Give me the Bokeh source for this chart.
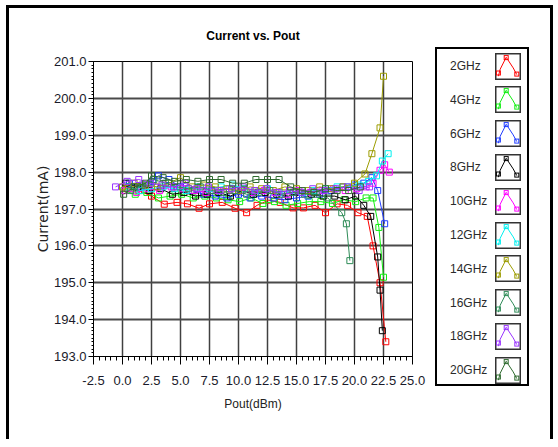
import numpy as np
from bokeh.plotting import figure
from bokeh.layouts import row
from bokeh.models import Range1d, SingleIntervalTicker, PrintfTickFormatter, Div
from bokeh.embed import file_html
from bokeh.resources import INLINE

# ---------------- data ----------------
labels = ["2GHz", "4GHz", "6GHz", "8GHz", "10GHz", "12GHz", "14GHz", "16GHz", "18GHz", "20GHz"]
colors = ["#ff0000", "#11ee11", "#1f3cff", "#000000", "#ff00ff",
          "#00f0f0", "#9c9c00", "#2e8b57", "#9933ff", "#2f6b2f"]

x_2 = [0.4, 1.4, 2.5, 3.6, 4.7, 5.6, 6.6, 7.5, 8.6, 9.7, 10.7, 11.6, 12.6, 13.6, 14.7, 15.6, 16.6, 17.5, 18.5, 19.4, 20.3, 21.1, 21.6, 22.2, 22.7]
y_2 = [197.55, 197.5, 197.35, 197.13, 197.18, 197.14, 197.02, 197.14, 197.18, 197.02, 196.9, 197.1, 197.24, 197.18, 197.03, 197.03, 197.1, 196.9, 197.14, 197.1, 196.9, 196.8, 196.0, 195.0, 193.4]

x_4 = [0.1, 1.1, 2.1, 3.1, 4.1, 5.1, 6.1, 7.1, 8.1, 9.1, 10.1, 11.1, 12.1, 13.1, 14.1, 15.1, 16.1, 17.1, 18.1, 19.1, 20.1, 21.0, 21.6, 22.1, 22.5]
y_4 = [197.5, 197.4, 197.45, 197.3, 197.35, 197.4, 197.3, 197.35, 197.3, 197.25, 197.2, 197.3, 197.15, 197.2, 197.1, 197.15, 197.2, 197.2, 197.15, 197.25, 197.2, 197.3, 197.3, 196.5, 195.15]

x_6 = [0.6, 1.6, 2.6, 3.1, 4.0, 5.0, 6.0, 7.0, 8.0, 9.0, 10.0, 11.0, 12.0, 13.0, 14.0, 15.0, 16.0, 17.0, 18.0, 19.0, 20.0, 20.8, 21.5, 22.0, 22.6]
y_6 = [197.7, 197.6, 197.75, 197.9, 197.8, 197.6, 197.5, 197.4, 197.35, 197.3, 197.4, 197.3, 197.35, 197.3, 197.25, 197.3, 197.35, 197.4, 197.5, 197.6, 197.65, 197.7, 197.85, 197.5, 196.6]

x_8 = [0.3, 1.3, 2.3, 3.3, 4.3, 5.3, 6.3, 7.3, 8.3, 9.3, 10.3, 11.3, 12.3, 13.3, 14.3, 15.3, 16.3, 17.3, 18.3, 19.2, 20.1, 20.8, 21.4, 22.0, 22.2, 22.4]
y_8 = [197.7, 197.6, 197.5, 197.55, 197.4, 197.45, 197.35, 197.4, 197.45, 197.35, 197.5, 197.4, 197.45, 197.4, 197.35, 197.45, 197.4, 197.35, 197.35, 197.25, 197.35, 197.1, 196.8, 195.7, 194.8, 193.7]

x_10 = [0.2, 1.2, 2.2, 3.2, 4.2, 5.2, 6.2, 7.2, 8.2, 9.2, 10.2, 11.2, 12.2, 13.2, 14.2, 15.2, 16.2, 17.2, 18.2, 19.2, 20.2, 21.0, 21.6, 22.2, 22.6, 23.0]
y_10 = [197.5, 197.45, 197.55, 197.5, 197.6, 197.55, 197.5, 197.45, 197.5, 197.55, 197.5, 197.45, 197.5, 197.45, 197.4, 197.5, 197.45, 197.5, 197.55, 197.5, 197.55, 197.6, 197.7, 198.05, 198.2, 198.0]

x_12 = [0.5, 1.5, 2.5, 3.5, 4.5, 5.5, 6.5, 7.5, 8.5, 9.5, 10.5, 11.5, 12.5, 13.5, 14.5, 15.5, 16.5, 17.5, 18.5, 19.5, 20.4, 21.2, 21.9, 22.4, 22.9]
y_12 = [197.6, 197.5, 197.55, 197.6, 197.55, 197.5, 197.6, 197.55, 197.6, 197.65, 197.55, 197.5, 197.55, 197.45, 197.5, 197.45, 197.5, 197.55, 197.6, 197.6, 197.65, 197.75, 197.9, 198.3, 198.5]

x_14 = [0.0, 1.0, 2.0, 3.0, 4.0, 5.0, 6.0, 7.0, 8.0, 9.0, 10.0, 11.0, 12.0, 13.0, 14.0, 15.0, 16.0, 17.0, 18.0, 19.0, 20.0, 20.9, 21.5, 22.2, 22.5]
y_14 = [197.6, 197.7, 197.65, 197.6, 197.7, 197.85, 197.6, 197.65, 197.6, 197.55, 197.5, 197.6, 197.55, 197.5, 197.6, 197.55, 197.5, 197.6, 197.55, 197.6, 197.7, 197.95, 198.5, 199.2, 200.6]

x_16 = [0.7, 1.7, 2.7, 3.7, 4.7, 5.7, 6.7, 7.7, 8.7, 9.7, 10.7, 11.7, 12.7, 13.7, 14.7, 15.7, 16.7, 17.7, 18.9, 19.3, 19.6]
y_16 = [197.5, 197.65, 197.8, 197.7, 197.6, 197.55, 197.6, 197.5, 197.45, 197.5, 197.4, 197.45, 197.5, 197.4, 197.45, 197.4, 197.4, 197.3, 196.9, 196.6, 195.6]

x_18 = [-0.6, 0.4, 1.4, 2.4, 3.4, 4.4, 5.4, 6.4, 7.4, 8.4, 9.4, 10.4, 11.4, 12.4, 13.4, 14.4, 15.4, 16.4, 17.4, 18.4, 19.4, 20.4, 21.3]
y_18 = [197.6, 197.75, 197.8, 197.7, 197.65, 197.6, 197.7, 197.55, 197.6, 197.5, 197.55, 197.6, 197.5, 197.55, 197.45, 197.5, 197.45, 197.55, 197.5, 197.55, 197.6, 197.5, 197.6]

x_20 = [0.1, 1.0, 2.0, 2.5, 3.5, 4.5, 5.5, 6.5, 7.5, 8.5, 9.5, 10.5, 11.5, 12.5, 13.5, 14.5, 15.5, 16.5, 17.5, 18.5, 19.5, 20.5]
y_20 = [197.4, 197.6, 197.7, 197.9, 197.85, 197.75, 197.8, 197.75, 197.8, 197.8, 197.7, 197.7, 197.8, 197.8, 197.8, 197.6, 197.5, 197.45, 197.55, 197.5, 197.5, 197.6]

series_x = [x_2, x_4, x_6, x_8, x_10, x_12, x_14, x_16, x_18, x_20]
series_y = [y_2, y_4, y_6, y_8, y_10, y_12, y_14, y_16, y_18, y_20]

FONT = "Liberation Sans"

# ---------------- main chart ----------------
p = figure(width=426, height=431, x_range=Range1d(-2.5, 25.0), y_range=Range1d(193.0, 201.0),
           output_backend="svg", toolbar_location=None,
           min_border_left=84, min_border_right=23, min_border_top=52, min_border_bottom=83,
           title="Current vs. Pout")
p.title.text_font = FONT
p.title.text_font_style = "bold"
p.title.text_font_size = "12px"
p.title.align = "center"
p.title.standoff = 37
p.title.text_color = "#000000"
p.background_fill_color = "white"
p.border_fill_color = "white"
p.outline_line_color = "black"
p.outline_line_width = 1

xt = SingleIntervalTicker(interval=2.5, num_minor_ticks=5)
yt = SingleIntervalTicker(interval=1.0, num_minor_ticks=10)
p.xaxis.ticker = xt
p.yaxis.ticker = yt
p.xgrid.ticker = xt
p.ygrid.ticker = yt
p.xaxis.formatter = PrintfTickFormatter(format="%.1f")
p.yaxis.formatter = PrintfTickFormatter(format="%.1f")

p.xgrid.grid_line_color = "#404040"
p.xgrid.grid_line_width = 1.5
p.ygrid.grid_line_color = "#4a4a4a"
p.ygrid.grid_line_width = 2

for ax in (p.xaxis, p.yaxis):
    ax.axis_line_color = "black"
    ax.major_tick_line_color = "black"
    ax.minor_tick_line_color = "black"
    ax.major_tick_in = 0
    ax.minor_tick_in = 0
    ax.major_label_text_font = FONT
    ax.major_label_text_font_size = "13px"
    ax.major_label_text_color = "#1a1a2a"
    ax.axis_label_text_font_style = "normal"
    ax.axis_label_text_color = "#222222"

p.xaxis.major_tick_out = 8
p.xaxis.minor_tick_out = 4
p.xaxis.major_label_standoff = 11
p.xaxis.axis_label = "Pout(dBm)"
p.xaxis.axis_label_text_font = FONT
p.xaxis.axis_label_text_font_size = "12px"
p.xaxis.axis_label_standoff = 9

p.yaxis.major_tick_out = 5
p.yaxis.minor_tick_out = 2
p.yaxis.major_label_standoff = 2
p.yaxis.axis_label = "Current(mA)"
p.yaxis.axis_label_text_font = "DejaVu Sans"
p.yaxis.axis_label_text_font_size = "14px"
p.yaxis.axis_label_standoff = 0

for xs, ys, c in zip(series_x, series_y, colors):
    p.line(xs, ys, line_color=c, line_width=1)
    p.scatter(xs, ys, marker="square", size=6, line_color=c, line_width=1, fill_color=None)

# ---------------- legend panel (HTML) ----------------
icon_rx = np.array([0.13, 0.2, 0.43, 0.7, 0.84])
icon_ry = np.array([0.86, 0.6, 0.16, 0.55, 0.8])
sq_rel = [(0.13, 0.74), (0.84, 0.78), (0.43, 0.17)]
SW, SH = 26.0, 27.0

parts = []
for i, (lab, c) in enumerate(zip(labels, colors)):
    yc = 17 + 33.8 * i
    parts.append(
        f'<div style="position:absolute;left:13px;top:{yc - 8:.1f}px;height:16px;line-height:16px;'
        f'font-family:\'{FONT}\';font-size:12px;color:#2a2a2a;white-space:nowrap">{lab}</div>')
    pts = " ".join(f"{rx * SW:.1f},{ry * SH:.1f}" for rx, ry in zip(icon_rx, icon_ry))
    sq = "".join(
        f'<rect x="{rx * SW - 2:.1f}" y="{ry * SH - 2:.1f}" width="4" height="4" fill="none" '
        f'stroke="{c}" stroke-width="1"/>' for rx, ry in sq_rel)
    svg = (f'<svg width="{SW:.0f}" height="{SH:.0f}" xmlns="http://www.w3.org/2000/svg">'
           f'<rect x="0.75" y="0.75" width="{SW - 1.5}" height="{SH - 1.5}" fill="white" '
           f'stroke="#333333" stroke-width="1.5"/>'
           f'<polyline points="{pts}" fill="none" stroke="{c}" stroke-width="1"/>{sq}</svg>')
    parts.append(
        f'<div style="position:absolute;left:58px;top:{yc - SH / 2:.1f}px;width:{SW:.0f}px;'
        f'height:{SH:.0f}px;line-height:0">{svg}</div>')

legend_html = (
    '<div style="position:relative;width:115px;height:431px;background:white">'
    '<div style="position:absolute;left:0px;top:39px;width:94px;height:339px;'
    'border:2px solid black;background:white">' + "".join(parts) + '</div></div>')

legend_div = Div(text=legend_html, width=115, height=431, margin=0)

layout = row(p, legend_div, spacing=0,
             styles={"border-top": "3px solid black", "border-left": "3px solid black",
                     "border-right": "3px solid black",
                     "margin-top": "5px", "margin-left": "6px"})

open("out.html", "w").write(file_html(layout, INLINE))
